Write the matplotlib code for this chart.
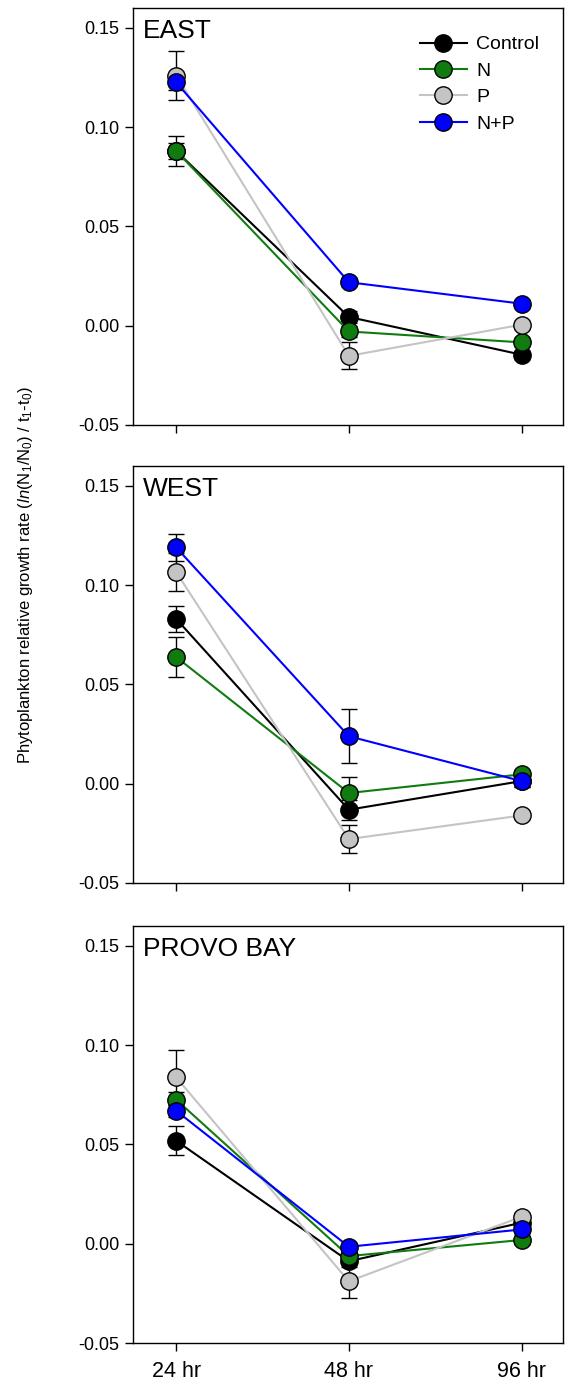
import matplotlib.pyplot as plt
from matplotlib.lines import Line2D

plt.rcParams['font.family'] = ['Liberation Sans', 'DejaVu Sans']
plt.rcParams['mathtext.fontset'] = 'custom'
plt.rcParams['mathtext.rm'] = 'Liberation Sans'
plt.rcParams['mathtext.it'] = 'Liberation Sans:italic'

times = ['24 hr', '48 hr', '96 hr']
treatments = ['Control', 'N', 'P', 'N+P']
colors = ['#000000', '#107c10', '#c4c4c4', '#0000ff']
sites = ['EAST', 'WEST', 'PROVO BAY']

# mean growth rate per treatment, one value per time point
east_mean = {
    'Control': [0.088, 0.0044, -0.0146],
    'N': [0.088, -0.0029, -0.0084],
    'P': [0.126, -0.0152, 0.0005],
    'N+P': [0.1226, 0.0219, 0.0111],
}
east_se = {
    'Control': [0.0074, 0.003, 0.002],
    'N': [0.004, 0.003, 0.002],
    'P': [0.0125, 0.0068, 0.002],
    'N+P': [0.004, 0.002, 0.002],
}
west_mean = {
    'Control': [0.083, -0.0131, 0.0013],
    'N': [0.0638, -0.0047, 0.0047],
    'P': [0.1066, -0.0279, -0.016],
    'N+P': [0.119, 0.0239, 0.0013],
}
west_se = {
    'Control': [0.0067, 0.005, 0.003],
    'N': [0.0099, 0.008, 0.002],
    'P': [0.0095, 0.007, 0.002],
    'N+P': [0.0067, 0.0136, 0.003],
}
provo_mean = {
    'Control': [0.0519, -0.0088, 0.0106],
    'N': [0.0726, -0.0062, 0.0019],
    'P': [0.0838, -0.0189, 0.0136],
    'N+P': [0.067, -0.0015, 0.0072],
}
provo_se = {
    'Control': [0.0073, 0.003, 0.002],
    'N': [0.004, 0.003, 0.002],
    'P': [0.014, 0.0085, 0.002],
    'N+P': [0.003, 0.002, 0.002],
}

means = [east_mean, west_mean, provo_mean]
errors = [east_se, west_se, provo_se]

fig = plt.figure(figsize=(5.65, 13.87), dpi=100)
left, width, height = 0.2354, 0.761, 0.3006
bottoms = [0.6936, 0.3634, 0.0317]

x = list(range(len(times)))
for k, site in enumerate(sites):
    ax = fig.add_axes([left, bottoms[k], width, height])
    for t, c in zip(treatments, colors):
        ax.errorbar(x, means[k][t], yerr=errors[k][t], fmt='none',
                    ecolor='black', elinewidth=1.0, capsize=6, capthick=1.0, zorder=2)
        ax.plot(x, means[k][t], '-o', color=c, lw=1.5, ms=12.5,
                mfc=c, mec='black', mew=1.0, zorder=3, label=t)
    ax.set_xlim(-0.25, 2.24)
    ax.set_ylim(-0.05, 0.16)
    ax.set_yticks([-0.05, 0.0, 0.05, 0.10, 0.15])
    ax.set_yticklabels(['-0.05', '0.00', '0.05', '0.10', '0.15'])
    ax.set_xticks(x)
    if k == 2:
        ax.set_xticklabels(times, fontsize=15.5)
        ax.tick_params(axis='x', pad=7)
    else:
        ax.set_xticklabels([])
    ax.tick_params(direction='out', length=6, width=1.0)
    ax.tick_params(axis='y', labelsize=13, pad=4)
    for s in ax.spines.values():
        s.set_linewidth(1.0)
    ax.text(0.023, 0.973, site, transform=ax.transAxes, ha='left', va='top', fontsize=19)
    if k == 0:
        handles = [Line2D([], [], color=c, lw=1.5, marker='o', ms=12.5, mfc=c,
                          mec='black', mew=1.0) for c in colors]
        ax.legend(handles, treatments, loc='upper right', frameon=False, fontsize=14,
                  bbox_to_anchor=(0.977, 0.966), handlelength=2.4, handletextpad=0.5,
                  labelspacing=0.45, borderaxespad=0.3)

fig.text(0.045, 0.585,
         r'Phytoplankton relative growth rate ($\mathit{ln}$(N$_1$/N$_0$) / t$_1$-t$_0$)',
         rotation=90, ha='center', va='center', fontsize=12)

fig.savefig('out.png', dpi=100)
